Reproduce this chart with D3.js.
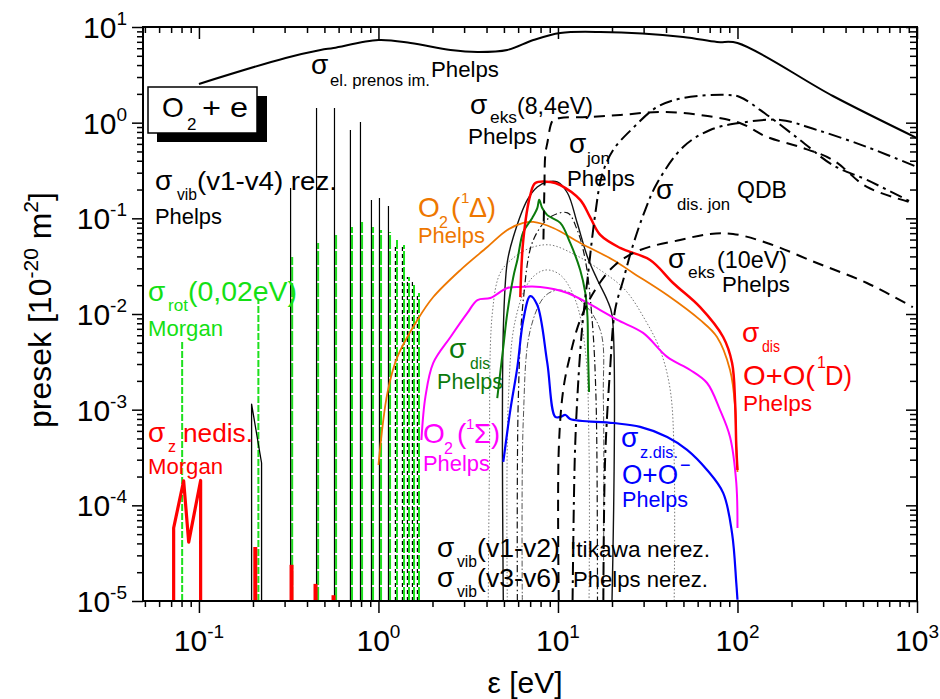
<!DOCTYPE html>
<html><head><meta charset="utf-8">
<script src="https://cdn.jsdelivr.net/npm/d3@7/dist/d3.min.js"></script>
<style>body{margin:0;background:#fff} svg text{font-family:"Liberation Sans",Arial,sans-serif}</style>
</head><body><svg id="c" width="940" height="699"></svg>
<script>
// ---------------- data (energy eV, cross section 1e-20 m^2) ----------------
const elastic = [[0.1,2.54],[0.304,4.75],[0.476,5.75],[0.562,6.04],[1.0,7.3],[1.51,6.8],[2.52,5.75],[3.56,5.48],[5.22,5.75],[7.29,7.3],[10.3,8.66],[17.2,8.87],[49.8,7.87],[76.9,6.97],[100,6.8],[340,1.9],[1000,0.69]];
const eks84 = [[8.3,0.06],[8.4,0.2],[8.5,0.46],[8.72,0.61],[9.41,1.07],[10.3,1.12],[14.6,1.147],[22.2,1.204],[37.1,1.294],[61.9,1.204],[103,0.993],[146,0.709],[223,0.557],[340,0.407],[526,0.213],[948,0.145]];
const eks10 = [[10.1,1e-5],[10.1,3.8e-4],[10.7,1.61e-3],[11.7,3.73e-3],[13.3,8.67e-3],[16.1,0.0178],[20.8,0.0326],[28.7,0.0467],[47.9,0.0594],[70.4,0.0687],[94.5,0.0687],[146,0.0553],[277,0.0341],[526,0.0211],[948,0.0118]];
const ionTot = [[12.06,1e-5],[12.4,3e-4],[12.8,1.26e-3],[13.6,6.8e-3],[14.8,0.0288],[16.1,0.108],[17.6,0.283],[20.3,0.518],[26.2,0.88],[35.7,1.459],[49.8,1.812],[87.5,1.948],[103,1.856],[146,1.204],[223,0.659],[340,0.36],[526,0.252],[948,0.145]];
const ionDis = [[17.9,1e-5],[18.3,2.98e-4],[19.5,2.6e-3],[20.8,0.011],[23.1,0.0227],[26.2,0.0527],[30.6,0.122],[35.7,0.234],[49.8,0.557],[70.4,0.839],[103,0.993],[173,1.067],[277,0.839],[526,0.557],[1000,0.344]];
const delta1 = [[1.0,2.64e-4],[1.122,1.5e-3],[1.275,3.56e-3],[1.648,8.67e-3],[2.02,0.01504],[2.86,0.0288],[4.04,0.0501],[5.22,0.0755],[6.41,0.0894],[7.29,0.0916],[9.41,0.0793],[13.3,0.0553],[20.3,0.0367],[26.2,0.0269],[40.6,0.0158],[61.9,0.00867],[76.9,0.00575],[90.9,0.0026],[97,1.07e-3],[98.5,4.07e-4],[100,2.23e-4]];
const sigma1 = [[1.735,4.82e-4],[1.826,1.36e-3],[2.02,3.08e-3],[2.52,5.75e-3],[3.13,0.01026],[3.56,0.014],[4.2,0.0147],[5.22,0.0187],[6.17,0.0192],[7.97,0.0192],[11.3,0.0166],[17.2,0.011],[21.4,0.00867],[29.8,0.00634],[40.6,0.00356],[54.5,0.0026],[67.7,0.0019],[80,9.9e-4],[90.9,5.19e-4],[98.5,1.71e-4],[100,5.8e-5]];
const disO1D = [[6.17,0.015],[6.41,0.0594],[7.01,0.175],[7.48,0.234],[9.06,0.24],[10.3,0.223],[13.3,0.156],[15.1,0.103],[17.2,0.067],[22.2,0.049],[32.6,0.0367],[43.8,0.0211],[61.9,0.0118],[83.2,0.00575],[93.3,0.00308],[97,0.00118],[98.5,4.07e-4],[100,2.34e-4]];
const disPh = [[4.59,1.32e-3],[4.96,4.52e-3],[5.22,0.0102],[5.64,0.0244],[5.94,0.0367],[6.41,0.072],[7.19,0.101],[7.67,0.128],[7.86,0.156],[8.17,0.128],[8.72,0.108],[10.3,0.0895],[11.7,0.0553],[13.3,0.0288],[14.2,0.0166],[14.6,9.3e-3],[14.7,4.2e-3],[14.9,1.53e-3]];
const attDis = [[4.96,2.84e-4],[5.43,9.93e-4],[5.94,2.79e-3],[6.41,8.67e-3],[7.01,0.0154],[7.67,0.0124],[8.72,3.08e-3],[9.66,8.4e-4],[10.3,8.4e-4],[11.0,8.8e-4],[11.7,8.0e-4],[20.3,7.26e-4],[28.7,6.6e-4],[40.6,5.19e-4],[52.4,3.8e-4],[67.7,2.34e-4],[83.2,1.35e-4],[93.3,5.1e-5],[98.5,1.54e-5],[100,1.03e-5]];
const vibNerSolid = [[4.96,1e-5],[4.96,0.00676],[5.22,0.0348],[5.64,0.0637],[6.75,0.1556],[7.67,0.213],[8.72,0.24],[9.91,0.24],[11.3,0.184],[12.8,0.0894],[14.6,0.0395],[16.6,0.0227],[18.8,0.014],[20.0,0.0098],[20.0,1e-5]];
const vibNerDashDot = [[5.94,1e-5],[6.01,0.00126],[6.41,0.014],[7.29,0.0594],[9.06,0.103],[11.3,0.114],[12.8,0.0755],[14.2,0.0367],[15.5,0.00867],[16.3,0.00126],[16.6,1e-5]];
const vibNerDotA = [[4.09,1e-5],[4.15,2.34e-4],[4.31,0.01026],[4.77,0.0269],[5.64,0.0385],[7.01,0.049],[9.06,0.0527],[12.5,0.0414],[17.2,0.0288],[23.7,0.0178],[30.6,0.00867],[37.1,0.0042],[42.2,0.00161],[44.4,2.98e-4],[44.4,1e-5]];
const vibNerDotB = [[5.22,1e-5],[5.29,0.00126],[5.79,0.00867],[7.01,0.0227],[8.5,0.0288],[10.3,0.0256],[12.5,0.014],[14.2,0.0042],[14.9,3.8e-4],[14.9,1e-5]];
const vibNerGray = [[6.33,1e-5],[6.41,7.8e-4],[7.01,0.0068],[8.5,0.0155],[10.3,0.0178],[13.3,0.014],[17.2,0.0068],[17.9,0.00126],[17.9,1e-5]];
const vibSmall = [[0.1965,1e-5],[0.1965,0.00114],[0.2233,0.000277],[0.2233,1e-5]];
const vibE   = [0.324,0.452,0.569,0.698,0.794,0.914,1.013,1.137,1.243,1.36,1.45,1.546,1.648];
const vibTop = [0.2077,1.42,1.42,0.839,1.017,0.1556,0.163,0.1346,0.0527,0.0527,0.0244,0.0216,0.0166];
const rotE   = [0.079,0.21,0.324,0.452,0.569,0.698,0.794,0.914,1.013,1.137,1.243,1.36,1.45,1.546,1.648];
const rotTop = [0.00535,0.014,0.0395,0.0553,0.067,0.0813,0.0916,0.0813,0.0755,0.072,0.0594,0.0527,0.0244,0.0201,0.0166];
const attM   = [[0.0723,1e-5],[0.0723,5.8e-5],[0.0822,1.8e-4],[0.0877,4.13e-5],[0.1022,1.82e-4],[0.1022,1e-5]];
const attE   = [0.206,0.328,0.446,0.562];
const attTop = [3.67e-5,2.39e-5,1.51e-5,1.15e-5];
const xMajor = [0.1,1,10,100,1000];
const xMajorExp = ["-1","0","1","2","3"];
const yMajor = [1e-5,1e-4,1e-3,1e-2,1e-1,1,10];
const yMajorExp = ["-5","-4","-3","-2","-1","0","1"];

// ---------------- chart ----------------
const svg = d3.select("#c");
const x = d3.scaleLog().domain([0.0488,1000]).range([143,917]);
const y = d3.scaleLog().domain([1e-5,10]).range([601,27]);
const BOT = 1e-5;

svg.append("defs").append("clipPath").attr("id","clip").append("rect")
  .attr("x",x.range()[0]).attr("y",y.range()[1]).attr("width",x.range()[1]-x.range()[0]).attr("height",y.range()[0]-y.range()[1]);
const plot = svg.append("g").attr("clip-path","url(#clip)");

const smooth = d3.line().x(d=>x(d[0])).y(d=>y(d[1])).curve(d3.curveCatmullRom.alpha(0.5));
const lin = d3.line().x(d=>x(d[0])).y(d=>y(d[1]));

function draw(data, gen, color, w, dash, parent){
  const p = (parent||plot).append("path").attr("d",gen(data)).attr("fill","none")
    .attr("stroke",color).attr("stroke-width",w).attr("stroke-linejoin","round");
  if(dash) p.attr("stroke-dasharray",dash);
  return p;
}

// thin non-resonant vibrational bells
draw(vibNerDotA, smooth, "#777", 1, "1.5,2");
draw(vibNerDotB, smooth, "#777", 1, "1.5,2");
draw(vibNerGray, smooth, "#555", 1, "6,2,1.5,2");
draw(vibNerDashDot, smooth, "#111", 1.2, "7,3,1.5,3");
draw(vibNerSolid, smooth, "#111", 1.4);

// rotational / resonant vibrational spikes (green drawn beside the black)
const greenG = plot.append("g").attr("transform","translate(1.6,0)");
rotE.forEach((e,i)=>{
  draw([[e,BOT],[e,rotTop[i]]], lin, "#1ee01e", 2, i<2?"7,2":"14,2", greenG);
});
vibE.forEach((e,i)=>{
  draw([[e,BOT],[e,vibTop[i]]], lin, "#000", 1.2, i<8?null:"4,3");
});
draw(vibSmall, lin, "#000", 1.3);

// attachment (Morgan)
draw(attM, lin, "#ff0000", 3.2);
attE.forEach((e,i)=>draw([[e,BOT],[e,attTop[i]]], lin, "#ff0000", 4));

// coloured curves
draw(delta1, smooth, "#ee7700", 1.8);
draw(sigma1, smooth, "#ff00ff", 2);
draw(disPh, smooth, "#0b7a0b", 2);
draw(attDis, smooth, "#0000ff", 2.2);
draw(disO1D, smooth, "#ff0000", 2.5);

// heavy black curves
draw(elastic, smooth, "#000", 2);
draw(eks84, smooth, "#000", 2, "11,7");
draw(eks10, smooth, "#000", 2, "11,7");
draw(ionTot, smooth, "#000", 2, "13,5,3,5");
draw(ionDis, smooth, "#000", 2, "13,5,3,5");

// ---------------- axes ----------------
function minors(){
  const out=[];
  [0.01,0.1,1,10,100].forEach(d=>{for(let k=2;k<=9;k++){const v=k*d; if(v>=x.domain()[0]&&v<=1000) out.push(v);}});
  return out;
}
function yminors(){
  const out=[];
  [1e-5,1e-4,1e-3,1e-2,1e-1,1].forEach(d=>{for(let k=2;k<=9;k++) out.push(k*d);});
  return out;
}
const ax = svg.append("g");
function addAxis(axis, tr, vals, size){
  const g = ax.append("g").attr("transform",tr)
    .call(axis.tickValues(vals).tickSize(size).tickFormat(""));
  g.select(".domain").remove();
  g.selectAll("line").attr("stroke","#000").attr("stroke-width",1.5);
}
addAxis(d3.axisBottom(x), "translate(0,601)", xMajor, 12);
addAxis(d3.axisBottom(x), "translate(0,601)", minors(), 6);
addAxis(d3.axisTop(x), "translate(0,27)", xMajor, -12);
addAxis(d3.axisTop(x), "translate(0,27)", minors(), -6);
addAxis(d3.axisLeft(y), "translate(143,0)", yMajor, 11);
addAxis(d3.axisLeft(y), "translate(143,0)", yminors(), 6);
addAxis(d3.axisRight(y), "translate(917,0)", yMajor, -11);
addAxis(d3.axisRight(y), "translate(917,0)", yminors(), -7);
svg.append("rect").attr("x",143).attr("y",27).attr("width",774).attr("height",574)
  .attr("fill","none").attr("stroke","#000").attr("stroke-width",2);

function powLabel(xp, yp, exp, anchor){
  const t = svg.append("text").attr("x",xp).attr("y",yp).attr("text-anchor",anchor)
    .attr("font-size",30).attr("fill","#000");
  t.append("tspan").text("10");
  t.append("tspan").attr("font-size",19).attr("dy",-13).text(exp);
}
xMajor.forEach((v,i)=>powLabel(x(v), 651, xMajorExp[i], "middle"));
yMajor.forEach((v,i)=>powLabel(127, y(v)+11, yMajorExp[i], "end"));

// axis titles
const yt = svg.append("text").attr("transform","translate(51,310) rotate(-90)")
  .attr("text-anchor","middle").attr("font-size",32);
yt.append("tspan").text("presek [10");
yt.append("tspan").attr("font-size",21).attr("dy",-13).text("-20");
yt.append("tspan").attr("dy",13).text(" m");
yt.append("tspan").attr("font-size",21).attr("dy",-13).text("2");
yt.append("tspan").attr("dy",13).text("]");
svg.append("text").attr("x",525).attr("y",693).attr("text-anchor","middle").attr("font-size",30).text("ε [eV]");

// ---------------- labels ----------------
function t(xp, yp, str, size, color, w){
  const e = svg.append("text").attr("x",xp).attr("y",yp).attr("font-size",size).attr("fill",color||"#000").text(str);
  if(w) e.attr("textLength",w).attr("lengthAdjust","spacingAndGlyphs");
  return e;
}
// O2 + e box
svg.append("rect").attr("x",157).attr("y",96).attr("width",110).attr("height",46).attr("fill","#000");
svg.append("rect").attr("x",148).attr("y",87).attr("width",109).attr("height",46).attr("fill","#fff").attr("stroke","#000").attr("stroke-width",1.5);
t(162,117,"O",28); t(187,130,"2",17); t(202,117,"+ e",28,"#000",46);

const K="#000";
t(311,74,"σ",28,K); t(330,86,"el. prenos im.",16,K,100); t(431,77,"Phelps",22,K,68);
t(470,114,"σ",28,K); t(490,123,"eks",16,K,27); t(517,114,"(8,4eV)",24,K,76); t(468,144,"Phelps",22,K,69);
t(569,153,"σ",28,K); t(587,164,"jon",16,K,23); t(567,186,"Phelps",22,K,68);
t(656,199,"σ",28,K); t(677,210,"dis. jon",16,K,53); t(737,198,"QDB",24,K,50);
t(668,268,"σ",28,K); t(688,278,"eks",16,K,27); t(717,268,"(10eV)",24,K,70); t(722,292,"Phelps",22,K,68);
t(155,190,"σ",28,K); t(177,200,"vib",16,K,20); t(197,190,"(v1-v4) rez.",26,K,140); t(155,224,"Phelps",22,K,67);
t(437,557,"σ",28,K); t(457,567,"vib",16,K,20); t(477,557,"(v1-v2)",26,K,83); t(570,557,"Itikawa nerez.",22,K,140);
t(437,587,"σ",28,K); t(457,597,"vib",16,K,20); t(477,587,"(v3-v6)",26,K,83); t(573,587,"Phelps nerez.",22,K,135);

const R="#ff0000";
t(742,342,"σ",28,R); t(762,352,"dis",16,R,18); t(743,385,"O+O(",28,R,72); t(817,368,"1",16,R); t(825,385,"D)",28,R,27); t(743,411,"Phelps",22,R,69);
t(148,442,"σ",28,R); t(168,452,"z",16,R); t(183,442,"nedis.",26,R,70); t(148,474,"Morgan",22,R,75);

const O="#ee7700";
t(418,217,"O",28,O); t(439,228,"2",16,O); t(451,217,"(",28,O); t(461,203,"1",15,O); t(469,217,"Δ)",28,O,27); t(418,243,"Phelps",22,O,67);
const M="#ff00ff";
t(423,443,"O",28,M); t(444,454,"2",16,M); t(457,443,"(",28,M); t(466,429,"1",15,M); t(474,443,"Σ)",28,M,26); t(423,471,"Phelps",22,M,67);
const G="#0b7a0b";
t(449,358,"σ",28,G); t(470,369,"dis",16,G,20); t(437,389,"Phelps",22,G,66);
const B="#0000ff";
t(621,447,"σ",28,B); t(640,458,"z.dis.",16,B,38); t(622,484,"O+O",27,B,56); t(680,471,"−",18,B); t(622,507,"Phelps",22,B,66);
const LG="#14e014";
t(148,301,"σ",28,LG); t(168,311,"rot",16,LG,20); t(188,301,"(0,02eV)",28,LG,109); t(148,336,"Morgan",22,LG,75);
</script>
</body></html>
